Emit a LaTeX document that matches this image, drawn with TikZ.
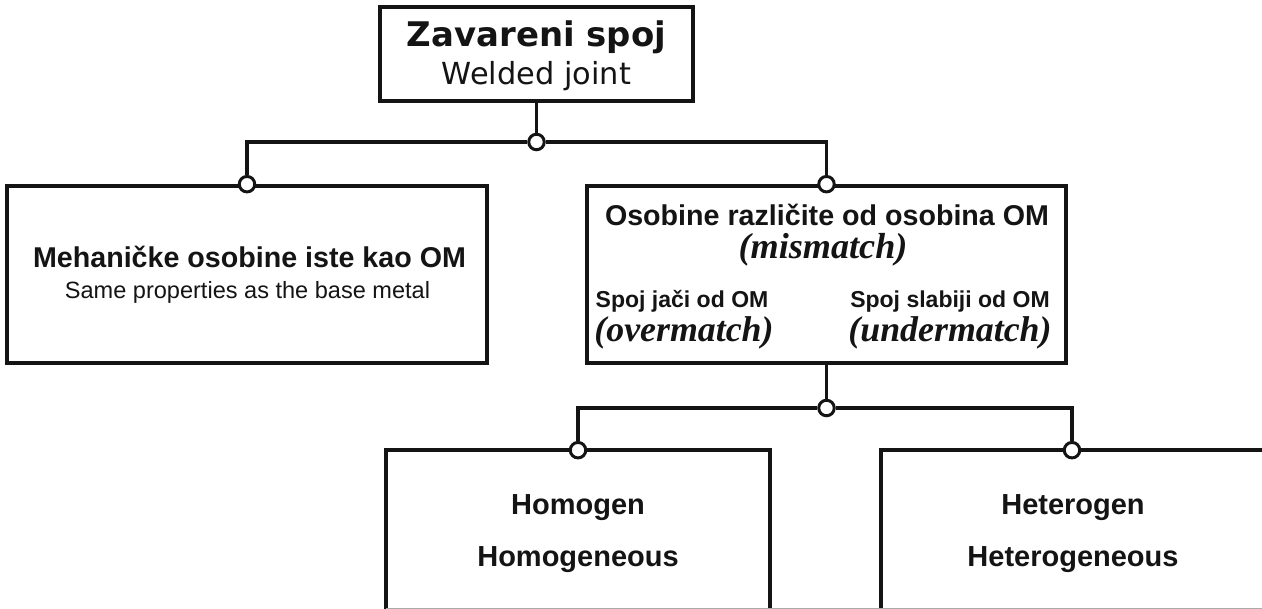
\documentclass[tikz,border=0pt]{standalone}
\usepackage{fontspec}
\setmainfont{Liberation Sans}
\newfontfamily\headfont{DejaVu Sans}
\newfontfamily\termfont{Liberation Serif}
\definecolor{JointBlack}{RGB}{20,20,20}
\definecolor{JointGrey}{RGB}{170,170,170}
\tikzset{
  box/.style={rectangle, line width=2.1pt, draw=JointBlack, fill=white, inner sep=0pt},
  boxline/.style={line width=2.1pt, draw=JointBlack},
  edgeline/.style={line width=0.8pt, draw=JointGrey},
  link/.style={line width=1.8pt, draw=JointBlack},
  joint/.style={circle, line width=1.7pt, draw=JointBlack, fill=white, minimum size=0.31cm, inner sep=0pt},
  lab/.style={anchor=base, inner sep=0pt, text=JointBlack}
}
\begin{document}
\begin{tikzpicture}[x=0.02cm,y=-0.02cm]
	\useasboundingbox (0,0) rectangle (1262,609);
	% boxes
	\node[box, minimum width=6.26cm, minimum height=1.88cm] (top) at (536.5,54) {};
	\node[box, minimum width=9.6cm, minimum height=3.54cm] (left) at (247,274.5) {};
	\node[box, minimum width=9.58cm, minimum height=3.54cm] (mid) at (826.5,274.5) {};
	\node[box, draw=none, minimum width=7.6cm, minimum height=3.1cm] (homo) at (578,529.5) {};
	\node[box, draw=none, minimum width=7.56cm, minimum height=3.1cm] (hetero) at (1072,529.5) {};
	\draw[boxline] (homo.south west) -- (homo.north west) -- (homo.north east) -- (homo.south east);
	\draw[boxline] (hetero.south west) -- (hetero.north west) -- (hetero.north east);
	\draw[edgeline] (hetero.north east) -- (hetero.south east) -- (homo.south west);
	% joints
	\node[joint] (j1) at (536.5,142) {};
	\node[joint] (pL) at (left.north) {};
	\node[joint] (pM) at (mid.north) {};
	\node[joint] (j2) at (826.5,408) {};
	\node[joint] (pA) at (homo.north) {};
	\node[joint] (pB) at (hetero.north) {};
	\draw[link] (top) -- (j1);
	\draw[link] (j1) -| (pL);
	\draw[link] (j1) -| (pM);
	\draw[link] (mid) -- (j2);
	\draw[link] (j2) -| (pA);
	\draw[link] (j2) -| (pB);
	% texts
	\node[lab] (ttl) at (536.5,46) {\headfont\bfseries\fontsize{19.3}{22}\selectfont Zavareni spoj};
	\node[lab] (ttlen) at (536.5,84) {\headfont\fontsize{17.3}{19}\selectfont Welded joint};
	\node[lab] (same) at (249.5,267) {\bfseries\fontsize{16.3}{18}\selectfont Mehaničke osobine iste kao OM};
	\node[lab] (sameen) at (247.5,298) {\fontsize{13.4}{15}\selectfont Same properties as the base metal};
	\node[lab] (diff) at (827,225) {\bfseries\fontsize{16.3}{18}\selectfont Osobine različite od osobina OM};
	\node[lab] (diffen) at (823,258) {\termfont\bfseries\itshape\fontsize{20.6}{22}\selectfont (mismatch)};
	\node[lab] (over) at (682,307) {\bfseries\fontsize{13.1}{15}\selectfont Spoj jači od OM};
	\node[lab] (overen) at (684,341) {\termfont\bfseries\itshape\fontsize{20.4}{22}\selectfont (overmatch)};
	\node[lab] (under) at (950,307) {\bfseries\fontsize{13.1}{15}\selectfont Spoj slabiji od OM};
	\node[lab] (underen) at (950,341) {\termfont\bfseries\itshape\fontsize{20.4}{22}\selectfont (undermatch)};
	\node[lab] (homot) at (578,514) {\bfseries\fontsize{16.5}{18}\selectfont Homogen};
	\node[lab] (homoen) at (578,566) {\bfseries\fontsize{16.5}{18}\selectfont Homogeneous};
	\node[lab] (hetet) at (1073,514) {\bfseries\fontsize{16.5}{18}\selectfont Heterogen};
	\node[lab] (heteen) at (1073,566) {\bfseries\fontsize{16.5}{18}\selectfont Heterogeneous};
\end{tikzpicture}
\end{document}
